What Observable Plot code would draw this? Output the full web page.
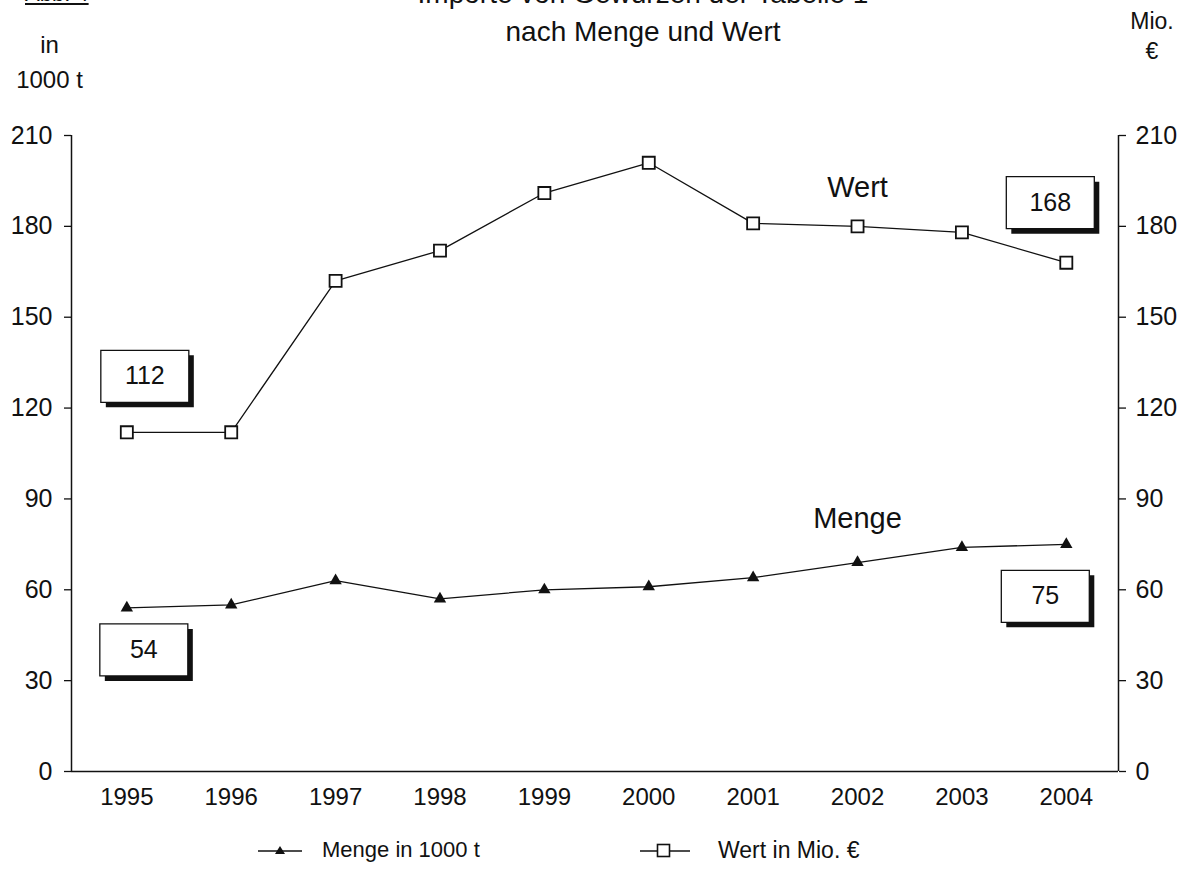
<!DOCTYPE html>
<html>
<head>
<meta charset="utf-8">
<script src="https://cdn.jsdelivr.net/npm/d3@7"></script>
<script src="https://cdn.jsdelivr.net/npm/@observablehq/plot@0.6"></script>
<style>
  html, body { margin: 0; padding: 0; background: white; }
  #wrap { position: relative; width: 1194px; height: 891px; overflow: hidden; font-family: "Liberation Sans", Arial, sans-serif; color: #111; }
  .t { position: absolute; white-space: nowrap; line-height: 1; }
  #chart { position: absolute; left: 0; top: 0; }
</style>
</head>
<body>
<div id="wrap">
  <div id="chart"></div>
  <div class="t" style="left:25px; top:-17px; font-size:22px; text-decoration:underline;">Abb. 4</div>
  <div class="t" style="left:0; width:1286px; text-align:center; top:-20px; font-size:28px;">Importe von Gewürzen der Tabelle 1</div>
  <div class="t" style="left:0; width:1286px; text-align:center; top:18px; font-size:28px;">nach Menge und Wert</div>
  <div class="t" style="left:0; width:99px; text-align:center; top:33px; font-size:24px;">in</div>
  <div class="t" style="left:0; width:99px; text-align:center; top:68px; font-size:24px;">1000 t</div>
  <div class="t" style="left:1100px; width:104px; text-align:center; top:10px; font-size:23px;">Mio.</div>
  <div class="t" style="left:1100px; width:104px; text-align:center; top:40px; font-size:23px;">€</div>
  <div id="legend"></div>
</div>
<script>
// ---- data ----
const years = [1995, 1996, 1997, 1998, 1999, 2000, 2001, 2002, 2003, 2004];
const menge = [54, 55, 63, 57, 60, 61, 64, 69, 74, 75];
const wert = [112, 112, 162, 172, 191, 201, 181, 180, 178, 168];
const yTicks = [0, 30, 60, 90, 120, 150, 180, 210];
const seriesNames = ["Menge in 1000 t", "Wert in Mio. €"];
const seriesLabels = ["Menge", "Wert"];

const dataM = years.map((year, i) => ({year, value: menge[i]}));
const dataW = years.map((year, i) => ({year, value: wert[i]}));
const xDomain = [years[0] - 0.53, years[years.length - 1] + 0.5];

const ink = "#111";
const boxSymbol = {
  draw(context) {
    context.moveTo(-44, -26);
    context.lineTo(44, -26);
    context.lineTo(44, 26);
    context.lineTo(-44, 26);
    context.closePath();
  }
};

const annotations = [
  {d: dataW[0], dx: 18, dy: -56},
  {d: dataM[0], dx: 17, dy: 42},
  {d: dataW[years.length - 1], dx: -16, dy: -60},
  {d: dataM[years.length - 1], dx: -21, dy: 52}
];

const boxMarks = annotations.flatMap(({d, dx, dy}) => [
  Plot.dot([d], {x: "year", y: "value", symbol: boxSymbol, fill: ink, stroke: "none", dx: dx + 5, dy: dy + 5}),
  Plot.dot([d], {x: "year", y: "value", symbol: boxSymbol, fill: "white", stroke: ink, strokeWidth: 1.3, dx, dy}),
  Plot.text([d], {x: "year", y: "value", text: (v) => String(v.value), dx, dy, fontSize: 25, fill: ink})
]);

const chart = Plot.plot({
  width: 1194,
  height: 891,
  marginLeft: 71,
  marginRight: 76,
  marginTop: 135,
  marginBottom: 120,
  style: {fontFamily: "'Liberation Sans', Arial, sans-serif", color: ink, background: "transparent", overflow: "visible"},
  x: {domain: xDomain, label: null},
  y: {domain: [0, 210], label: null},
  marks: [
    Plot.axisY(yTicks, {anchor: "left", tickSize: 7, tickPadding: 12, fontSize: 25, label: null, strokeWidth: 1.3}),
    Plot.axisY(yTicks, {anchor: "right", tickSize: 7, tickPadding: 10, fontSize: 25, label: null, strokeWidth: 1.3}),
    Plot.axisX(years, {tickSize: 0, tickPadding: 16, fontSize: 24, tickFormat: (d) => String(d), label: null}),
    Plot.ruleX(xDomain, {stroke: ink, strokeWidth: 1.5}),
    Plot.ruleY([0], {stroke: ink, strokeWidth: 1.5}),
    Plot.line(dataW, {x: "year", y: "value", stroke: ink, strokeWidth: 1.3}),
    Plot.dot(dataW, {x: "year", y: "value", symbol: "square", r: 6.8, fill: "white", stroke: ink, strokeWidth: 1.8}),
    Plot.line(dataM, {x: "year", y: "value", stroke: ink, strokeWidth: 1.3}),
    Plot.dot(dataM, {x: "year", y: "value", symbol: "triangle", r: 4.6, fill: ink, stroke: "none"}),
    Plot.text([dataW[7]], {x: "year", y: "value", text: () => seriesLabels[1], dy: -39, fontSize: 29, fill: ink}),
    Plot.text([dataM[7]], {x: "year", y: "value", text: () => seriesLabels[0], dy: -44, fontSize: 29, fill: ink}),
    ...boxMarks
  ]
});
document.getElementById("chart").appendChild(chart);

// ---- legend ----
const legend = document.getElementById("legend");
legend.innerHTML = `
  <svg style="position:absolute; left:256px; top:840px;" width="50" height="22">
    <line x1="2" x2="46" y1="11" y2="11" stroke="${ink}" stroke-width="1.3"/>
    <path d="M24,6 L29,14 L19,14 Z" fill="${ink}"/>
  </svg>
  <div class="t" style="left:322px; top:839px; font-size:22px;">${seriesNames[0]}</div>
  <svg style="position:absolute; left:638px; top:840px;" width="56" height="22">
    <line x1="2" x2="52" y1="11" y2="11" stroke="${ink}" stroke-width="1.3"/>
    <rect x="19.5" y="4.5" width="12" height="12" fill="white" stroke="${ink}" stroke-width="1.6"/>
  </svg>
  <div class="t" style="left:718px; top:839px; font-size:23px;">${seriesNames[1]}</div>
`;
</script>
</body>
</html>
